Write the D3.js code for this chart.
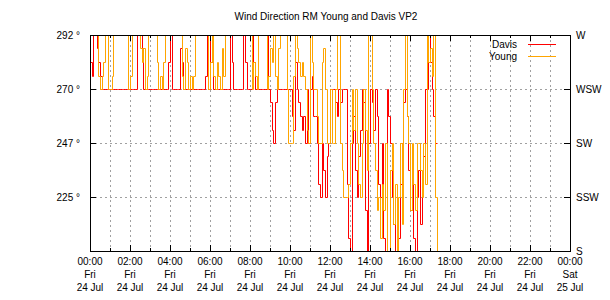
<!DOCTYPE html>
<html>
<head>
<meta charset="utf-8">
<script src="https://cdn.jsdelivr.net/npm/d3@7/dist/d3.min.js"></script>
<style>
  html, body { margin: 0; padding: 0; background: #fff; }
  svg { display: block; font-family: "Liberation Sans", Arial, sans-serif; }
</style>
</head>
<body>
<svg id="chart" width="610" height="300"></svg>
<script>
"use strict";

// ── Data (5-minute samples from 00:00 Fri 24 Jul) ─────────────────────────────
const sampleStart   = Date.UTC(2015, 6, 24, 0, 0);
const sampleMinutes = 5;

const davisDir = [
  281.3, 275.6, 292.5, 292.5, 286.9, 281.3, 275.6, 270, 270, 270, 270, 270,
  270, 270, 270, 270, 270, 270, 270, 270, 270, 270, 270, 270,
  270, 270, 270, 270, 292.5, 292.5, 292.5, 286.9, 270, 270, 270, 270,
  270, 270, 270, 270, 270, 270, 270, 270, 270, 270, 270, 281.3,
  292.5, 270, 270, 270, 270, 270, 286.9, 281.3, 270, 270, 270, 270,
  270, 270, 270, 270, 270, 270, 270, 270, 270, 275.6, 292.5, 270,
  292.5, 281.3, 270, 270, 270, 270, 270, 270, 270, 270, 270, 270,
  292.5, 281.3, 270, 270, 270, 270, 270, 270, 292.5, 281.3, 270, 270,
  270, 292.5, 281.3, 270, 270, 270, 270, 270, 270, 270, 292.5, 270,
  264.4, 253.1, 247.5, 264.4, 270, 270, 270, 270, 270, 270, 270, 270,
  270, 258.8, 253.1, 281.3, 270, 264.4, 258.8, 253.1, 258.8, 247.5, 270, 247.5,
  270, 275.6, 258.8, 258.8, 247.5, 230.6, 225, 247.5, 236.3, 225, 241.9, 247.5,
  270, 270, 270, 264.4, 258.8, 270, 264.4, 270, 270, 270, 230.6, 208.1,
  196.9, 247.5, 258.8, 236.3, 225, 241.9, 253.1, 270, 264.4, 219.4, 196.9, 247.5,
  270, 264.4, 253.1, 270, 258.8, 230.6, 225, 247.5, 208.1, 196.9, 270, 258.8,
  247.5, 225, 213.8, 196.9, 219.4, 208.1, 230.6, 247.5, 264.4, 270, 258.8, 236.3,
  219.4, 230.6, 208.1, 196.9, 225, 236.3, 213.8, 230.6, 241.9, 270, 270, 292.5,
  281.3, 270, 258.8, 247.5, 247.5
];

const youngDir = [
  298.1, 298.1, 298.1, 298.1, 298.1, 275.6, 270, 275.6, 281.3, 298.1, 298.1, 270,
  270, 275.6, 298.1, 298.1, 298.1, 298.1, 298.1, 298.1, 298.1, 298.1, 298.1, 270,
  275.6, 298.1, 298.1, 298.1, 298.1, 298.1, 286.9, 281.3, 286.9, 270, 275.6, 298.1,
  298.1, 298.1, 298.1, 298.1, 281.3, 270, 275.6, 270, 281.3, 298.1, 298.1, 298.1,
  298.1, 298.1, 298.1, 298.1, 298.1, 298.1, 298.1, 275.6, 270, 286.9, 281.3, 270,
  275.6, 270, 275.6, 298.1, 298.1, 298.1, 298.1, 298.1, 298.1, 298.1, 298.1, 270,
  281.3, 298.1, 275.6, 270, 281.3, 275.6, 270, 286.9, 275.6, 298.1, 298.1, 298.1,
  298.1, 298.1, 298.1, 298.1, 298.1, 298.1, 298.1, 298.1, 298.1, 298.1, 298.1, 298.1,
  298.1, 270, 281.3, 275.6, 270, 298.1, 298.1, 298.1, 298.1, 298.1, 270, 275.6,
  286.9, 281.3, 298.1, 275.6, 270, 286.9, 298.1, 298.1, 298.1, 298.1, 270, 247.5,
  247.5, 247.5, 275.6, 298.1, 286.9, 281.3, 275.6, 281.3, 275.6, 270, 253.1, 247.5,
  298.1, 281.3, 270, 270, 258.8, 247.5, 247.5, 281.3, 286.9, 270, 247.5, 247.5,
  270, 247.5, 247.5, 270, 292.5, 298.1, 247.5, 236.3, 225, 225, 225, 230.6,
  247.5, 270, 253.1, 270, 247.5, 230.6, 225, 247.5, 270, 253.1, 236.3, 298.1,
  292.5, 270, 247.5, 236.3, 219.4, 225, 208.1, 230.6, 219.4, 247.5, 202.5, 196.9,
  236.3, 247.5, 213.8, 230.6, 196.9, 225, 247.5, 213.8, 270, 298.1, 258.8, 247.5,
  219.4, 247.5, 230.6, 219.4, 247.5, 247.5, 236.3, 225, 247.5, 230.6, 292.5, 281.3,
  286.9, 275.6, 292.5, 225, 196.9
];

const seriesNames  = ["Davis", "Young"];
const seriesColors = ["#ff0000", "#ffa500"];

// ── Axis ticks / labels ───────────────────────────────────────────────────────
const yTickValues  = [292.5, 270, 247.5, 225, 202.5];
const yLeftLabels  = ["292 °", "270 °", "247 °", "225 °", ""];
const yRightLabels = ["W", "WSW", "SW", "SSW", "S"];
const xLabelTimes  = ["00:00", "02:00", "04:00", "06:00", "08:00", "10:00", "12:00",
                      "14:00", "16:00", "18:00", "20:00", "22:00", "00:00"];
const xLabelDays   = ["Fri", "Fri", "Fri", "Fri", "Fri", "Fri", "Fri",
                      "Fri", "Fri", "Fri", "Fri", "Fri", "Sat"];
const xLabelDates  = ["24 Jul", "24 Jul", "24 Jul", "24 Jul", "24 Jul", "24 Jul", "24 Jul",
                      "24 Jul", "24 Jul", "24 Jul", "24 Jul", "24 Jul", "25 Jul"];

// ── Layout ────────────────────────────────────────────────────────────────────
const W = 610, H = 300;
const M = { top: 35, right: 40, bottom: 49, left: 90 };
const x0 = M.left, x1 = W - M.right, yTop = M.top, yBot = H - M.bottom;

const svg = d3.select("#chart");

const x = d3.scaleUtc()
  .domain([new Date(sampleStart), d3.utcDay.offset(new Date(sampleStart), 1)])
  .range([x0, x1]);

const y = d3.scaleLinear()
  .domain([202.5, 292.5])
  .range([yBot, yTop]);

// snap to pixel centres, like a bitmap plotter
const px = (v) => Math.round(v) + 0.5;

const hours    = d3.utcHour.range(x.domain()[0], d3.utcHour.offset(x.domain()[1], 1));
const twoHours = hours.filter((d, i) => i % 2 === 0);
const oddHours = hours.filter((d, i) => i % 2 === 1);

// ── Grid ──────────────────────────────────────────────────────────────────────
const grid = svg.append("g")
  .attr("stroke", "#a0a0a0")
  .attr("stroke-width", 1)
  .attr("stroke-dasharray", "2,3")
  .attr("shape-rendering", "crispEdges");

grid.selectAll("line.gx")
  .data(hours.slice(1, -1))
  .join("line")
  .attr("class", "gx")
  .attr("x1", (d) => px(x(d))).attr("x2", (d) => px(x(d)))
  .attr("y1", yTop).attr("y2", yBot);

grid.selectAll("line.gy")
  .data(yTickValues.slice(1, -1))
  .join("line")
  .attr("class", "gy")
  .attr("x1", x0).attr("x2", x1)
  .attr("y1", (d) => px(y(d))).attr("y2", (d) => px(y(d)));

// ── Series (gnuplot-style steps) ──────────────────────────────────────────────
svg.append("clipPath").attr("id", "plot-clip")
  .append("rect")
  .attr("x", x0).attr("y", yTop)
  .attr("width", x1 - x0 + 1).attr("height", yBot - yTop + 1);

const line = d3.line()
  .x((d, i) => px(x(new Date(sampleStart + i * sampleMinutes * 60000))))
  .y((d) => px(y(d)))
  .curve(d3.curveStepAfter);

const plot = svg.append("g").attr("clip-path", "url(#plot-clip)");

[davisDir, youngDir].forEach((values, k) => {
  plot.append("path")
    .datum(values)
    .attr("fill", "none")
    .attr("stroke", seriesColors[k])
    .attr("stroke-width", 1)
    .attr("d", line);
});

// ── Axes ──────────────────────────────────────────────────────────────────────
function styleAxis(g) {
  g.select(".domain").remove();
  g.selectAll("line").attr("stroke", "#000").attr("shape-rendering", "crispEdges");
  g.selectAll("text").attr("fill", "#000");
}

svg.append("g")
  .attr("transform", `translate(0,${yBot})`)
  .call(d3.axisBottom(x).tickValues(twoHours).tickSizeInner(-6).tickFormat(""))
  .call(styleAxis);
svg.append("g")
  .attr("transform", `translate(0,${yBot})`)
  .call(d3.axisBottom(x).tickValues(oddHours).tickSizeInner(-3).tickFormat(""))
  .call(styleAxis);
svg.append("g")
  .attr("transform", `translate(0,${yTop})`)
  .call(d3.axisTop(x).tickValues(twoHours).tickSizeInner(-6).tickFormat(""))
  .call(styleAxis);
svg.append("g")
  .attr("transform", `translate(0,${yTop})`)
  .call(d3.axisTop(x).tickValues(oddHours).tickSizeInner(-3).tickFormat(""))
  .call(styleAxis);

svg.append("g")
  .attr("transform", `translate(${x0},0)`)
  .call(d3.axisLeft(y).tickValues(yTickValues)
    .tickSizeInner(-6).tickPadding(10)
    .tickFormat((d, i) => yLeftLabels[i]))
  .call(styleAxis)
  .selectAll("text").attr("font-size", 10).attr("font-family", "Liberation Sans, Arial, sans-serif");

svg.append("g")
  .attr("transform", `translate(${x1},0)`)
  .call(d3.axisRight(y).tickValues(yTickValues)
    .tickSizeInner(-6).tickPadding(6)
    .tickFormat((d, i) => yRightLabels[i]))
  .call(styleAxis)
  .selectAll("text").attr("font-size", 10).attr("font-family", "Liberation Sans, Arial, sans-serif");

// Multi-line time labels
const xLab = svg.append("g")
  .attr("font-size", 10)
  .attr("text-anchor", "middle")
  .attr("fill", "#000");

xLab.selectAll("text")
  .data(twoHours)
  .join("text")
  .attr("transform", (d) => `translate(${x(d)},${yBot + 14})`)
  .each(function(d, i) {
    const t = d3.select(this);
    t.append("tspan").attr("x", 0).attr("y", 0).text(xLabelTimes[i]);
    t.append("tspan").attr("x", 0).attr("y", 13).text(xLabelDays[i]);
    t.append("tspan").attr("x", 0).attr("y", 26).text(xLabelDates[i]);
  });

// Border
svg.append("rect")
  .attr("x", x0 + 0.5).attr("y", yTop + 0.5)
  .attr("width", x1 - x0).attr("height", yBot - yTop)
  .attr("fill", "none")
  .attr("stroke", "#000")
  .attr("shape-rendering", "crispEdges");

// ── Title ─────────────────────────────────────────────────────────────────────
svg.append("text")
  .attr("x", (x0 + x1) / 2 - 4)
  .attr("y", 20)
  .attr("text-anchor", "middle")
  .attr("font-size", 10)
  .text("Wind Direction RM Young and Davis VP2");

// ── Legend ────────────────────────────────────────────────────────────────────
const legend = svg.append("g").attr("font-size", 10);
seriesNames.forEach((name, k) => {
  const ly = 44 + k * 12;
  legend.append("text")
    .attr("x", 517).attr("y", ly + 4)
    .attr("text-anchor", "end")
    .text(name);
  legend.append("line")
    .attr("x1", 528).attr("x2", 556)
    .attr("y1", ly + 0.5).attr("y2", ly + 0.5)
    .attr("stroke", seriesColors[k])
    .attr("shape-rendering", "crispEdges");
});
</script>
</body>
</html>
